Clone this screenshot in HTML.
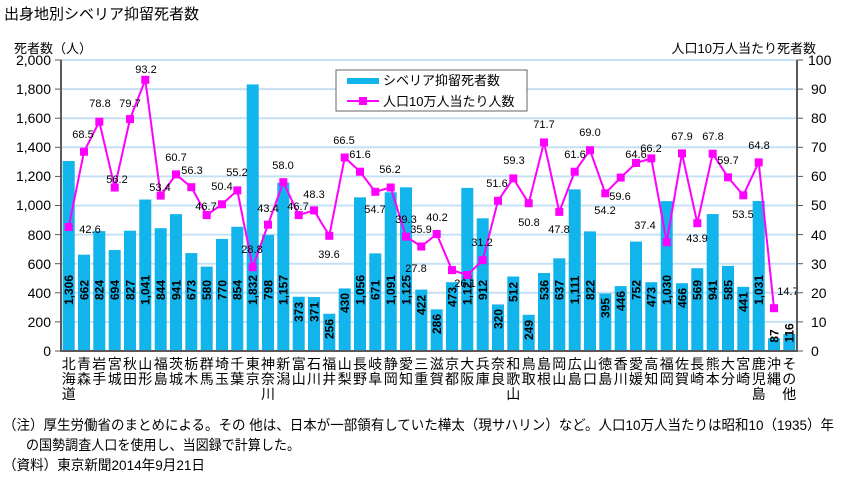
<!DOCTYPE html>
<html><head><meta charset="utf-8"><style>
html,body{margin:0;padding:0;background:#fff;}
svg{display:block;font-family:"Liberation Sans","Noto Sans CJK JP",sans-serif;}
.bl{font-size:12px;font-weight:bold;fill:#000;}
.rl{font-size:11px;fill:#000;}
.ax{font-size:14px;fill:#000;}
.cat{font-size:14px;fill:#000;text-anchor:middle;}
</style></head><body>
<svg width="851" height="484" viewBox="0 0 851 484" xmlns="http://www.w3.org/2000/svg">
<rect width="851" height="484" fill="#fff"/>
<text x="4" y="19" font-size="15">出身地別シベリア抑留死者数</text>
<text x="14" y="53" font-size="13">死者数（人）</text>
<text x="816" y="53" font-size="13" text-anchor="end">人口10万人当たり死者数</text>
<g stroke="#c6e0f5" stroke-width="2">
<line x1="61" x2="797" y1="60" y2="60"/><line x1="61" x2="797" y1="89.1" y2="89.1"/><line x1="61" x2="797" y1="118.2" y2="118.2"/><line x1="61" x2="797" y1="147.3" y2="147.3"/><line x1="61" x2="797" y1="176.4" y2="176.4"/><line x1="61" x2="797" y1="205.5" y2="205.5"/><line x1="61" x2="797" y1="234.6" y2="234.6"/><line x1="61" x2="797" y1="263.7" y2="263.7"/><line x1="61" x2="797" y1="292.8" y2="292.8"/><line x1="61" x2="797" y1="321.9" y2="321.9"/>
</g>
<g transform="translate(0,351) scale(1,-0.1455)" fill="#12b4ec">
<rect x="62.7" y="0" width="12" height="1306"/><rect x="78" y="0" width="12" height="662"/><rect x="93.3" y="0" width="12" height="824"/><rect x="108.7" y="0" width="12" height="694"/><rect x="124" y="0" width="12" height="827"/><rect x="139.3" y="0" width="12" height="1041"/><rect x="154.7" y="0" width="12" height="844"/><rect x="170" y="0" width="12" height="941"/><rect x="185.3" y="0" width="12" height="673"/><rect x="200.7" y="0" width="12" height="580"/><rect x="216" y="0" width="12" height="770"/><rect x="231.3" y="0" width="12" height="854"/><rect x="246.7" y="0" width="12" height="1832"/><rect x="262" y="0" width="12" height="798"/><rect x="277.3" y="0" width="12" height="1157"/><rect x="292.7" y="0" width="12" height="373"/><rect x="308" y="0" width="12" height="371"/><rect x="323.3" y="0" width="12" height="256"/><rect x="338.7" y="0" width="12" height="430"/><rect x="354" y="0" width="12" height="1056"/><rect x="369.3" y="0" width="12" height="671"/><rect x="384.7" y="0" width="12" height="1091"/><rect x="400" y="0" width="12" height="1125"/><rect x="415.3" y="0" width="12" height="422"/><rect x="430.7" y="0" width="12" height="286"/><rect x="446" y="0" width="12" height="473"/><rect x="461.3" y="0" width="12" height="1121"/><rect x="476.7" y="0" width="12" height="912"/><rect x="492" y="0" width="12" height="320"/><rect x="507.3" y="0" width="12" height="512"/><rect x="522.7" y="0" width="12" height="249"/><rect x="538" y="0" width="12" height="536"/><rect x="553.3" y="0" width="12" height="637"/><rect x="568.7" y="0" width="12" height="1111"/><rect x="584" y="0" width="12" height="822"/><rect x="599.3" y="0" width="12" height="395"/><rect x="614.7" y="0" width="12" height="446"/><rect x="630" y="0" width="12" height="752"/><rect x="645.3" y="0" width="12" height="473"/><rect x="660.7" y="0" width="12" height="1030"/><rect x="676" y="0" width="12" height="466"/><rect x="691.3" y="0" width="12" height="569"/><rect x="706.7" y="0" width="12" height="941"/><rect x="722" y="0" width="12" height="585"/><rect x="737.3" y="0" width="12" height="441"/><rect x="752.7" y="0" width="12" height="1031"/><rect x="768" y="0" width="12" height="87"/><rect x="783.3" y="0" width="12" height="116"/>
</g>
<g class="bl" text-anchor="middle">
<text transform="translate(73,290) rotate(-90)">1,306</text>
<text transform="translate(88.3,290) rotate(-90)">662</text>
<text transform="translate(103.6,290) rotate(-90)">824</text>
<text transform="translate(119,290) rotate(-90)">694</text>
<text transform="translate(134.3,290) rotate(-90)">827</text>
<text transform="translate(149.6,290) rotate(-90)">1,041</text>
<text transform="translate(165,290) rotate(-90)">844</text>
<text transform="translate(180.3,290) rotate(-90)">941</text>
<text transform="translate(195.6,290) rotate(-90)">673</text>
<text transform="translate(211,290) rotate(-90)">580</text>
<text transform="translate(226.3,290) rotate(-90)">770</text>
<text transform="translate(241.6,290) rotate(-90)">854</text>
<text transform="translate(257,290) rotate(-90)">1,832</text>
<text transform="translate(272.3,290) rotate(-90)">798</text>
<text transform="translate(287.6,290) rotate(-90)">1,157</text>
<text transform="translate(303,312) rotate(-90)">373</text>
<text transform="translate(318.3,312) rotate(-90)">371</text>
<text transform="translate(333.6,329) rotate(-90)">256</text>
<text transform="translate(349,303) rotate(-90)">430</text>
<text transform="translate(364.3,290) rotate(-90)">1,056</text>
<text transform="translate(379.6,290) rotate(-90)">671</text>
<text transform="translate(395,290) rotate(-90)">1,091</text>
<text transform="translate(410.3,290) rotate(-90)">1,125</text>
<text transform="translate(425.6,305) rotate(-90)">422</text>
<text transform="translate(441,324) rotate(-90)">286</text>
<text transform="translate(456.3,297) rotate(-90)">473</text>
<text transform="translate(471.6,290) rotate(-90)">1,121</text>
<text transform="translate(487,290) rotate(-90)">912</text>
<text transform="translate(502.3,319) rotate(-90)">320</text>
<text transform="translate(517.6,292) rotate(-90)">512</text>
<text transform="translate(533,330) rotate(-90)">249</text>
<text transform="translate(548.3,290) rotate(-90)">536</text>
<text transform="translate(563.6,290) rotate(-90)">637</text>
<text transform="translate(579,290) rotate(-90)">1,111</text>
<text transform="translate(594.3,290) rotate(-90)">822</text>
<text transform="translate(609.6,308) rotate(-90)">395</text>
<text transform="translate(625,301) rotate(-90)">446</text>
<text transform="translate(640.3,290) rotate(-90)">752</text>
<text transform="translate(655.6,297) rotate(-90)">473</text>
<text transform="translate(671,290) rotate(-90)">1,030</text>
<text transform="translate(686.3,298) rotate(-90)">466</text>
<text transform="translate(701.6,290) rotate(-90)">569</text>
<text transform="translate(717,290) rotate(-90)">941</text>
<text transform="translate(732.3,290) rotate(-90)">585</text>
<text transform="translate(747.6,302) rotate(-90)">441</text>
<text transform="translate(763,290) rotate(-90)">1,031</text>
<text transform="translate(778.3,336) rotate(-90)">87</text>
<text transform="translate(793.6,333) rotate(-90)">116</text>
</g>
<polyline fill="none" stroke="#ff00ff" stroke-width="2" points="68.7,227 84,151.7 99.3,121.7 114.7,187.5 130,119.1 145.3,79.8 160.7,195.6 176,174.4 191.3,187.2 206.7,215.1 222,204.3 237.3,190.4 252.7,267.2 268,224.7 283.3,182.2 298.7,215.1 314,210.4 329.3,235.8 344.7,157.5 360,171.7 375.3,191.8 390.7,187.5 406,236.6 421.3,246.5 436.7,234 452,270.1 467.3,275 482.7,260.2 498,200.8 513.3,178.4 528.7,203.2 544,142.4 559.3,211.9 574.7,171.7 590,150.2 605.3,193.3 620.7,177.6 636,163 651.3,158.4 666.7,242.2 682,153.4 697.3,223.2 712.7,153.7 728,177.3 743.3,195.3 758.7,162.4 774,308.2"/>
<g fill="#ff00ff">
<rect x="64.7" y="223" width="8" height="8"/><rect x="80" y="147.7" width="8" height="8"/><rect x="95.3" y="117.7" width="8" height="8"/><rect x="110.7" y="183.5" width="8" height="8"/><rect x="126" y="115.1" width="8" height="8"/><rect x="141.3" y="75.8" width="8" height="8"/><rect x="156.7" y="191.6" width="8" height="8"/><rect x="172" y="170.4" width="8" height="8"/><rect x="187.3" y="183.2" width="8" height="8"/><rect x="202.7" y="211.1" width="8" height="8"/><rect x="218" y="200.3" width="8" height="8"/><rect x="233.3" y="186.4" width="8" height="8"/><rect x="248.7" y="263.2" width="8" height="8"/><rect x="264" y="220.7" width="8" height="8"/><rect x="279.3" y="178.2" width="8" height="8"/><rect x="294.7" y="211.1" width="8" height="8"/><rect x="310" y="206.4" width="8" height="8"/><rect x="325.3" y="231.8" width="8" height="8"/><rect x="340.7" y="153.5" width="8" height="8"/><rect x="356" y="167.7" width="8" height="8"/><rect x="371.3" y="187.8" width="8" height="8"/><rect x="386.7" y="183.5" width="8" height="8"/><rect x="402" y="232.6" width="8" height="8"/><rect x="417.3" y="242.5" width="8" height="8"/><rect x="432.7" y="230" width="8" height="8"/><rect x="448" y="266.1" width="8" height="8"/><rect x="463.3" y="271" width="8" height="8"/><rect x="478.7" y="256.2" width="8" height="8"/><rect x="494" y="196.8" width="8" height="8"/><rect x="509.3" y="174.4" width="8" height="8"/><rect x="524.7" y="199.2" width="8" height="8"/><rect x="540" y="138.4" width="8" height="8"/><rect x="555.3" y="207.9" width="8" height="8"/><rect x="570.7" y="167.7" width="8" height="8"/><rect x="586" y="146.2" width="8" height="8"/><rect x="601.3" y="189.3" width="8" height="8"/><rect x="616.7" y="173.6" width="8" height="8"/><rect x="632" y="159" width="8" height="8"/><rect x="647.3" y="154.4" width="8" height="8"/><rect x="662.7" y="238.2" width="8" height="8"/><rect x="678" y="149.4" width="8" height="8"/><rect x="693.3" y="219.2" width="8" height="8"/><rect x="708.7" y="149.7" width="8" height="8"/><rect x="724" y="173.3" width="8" height="8"/><rect x="739.3" y="191.3" width="8" height="8"/><rect x="754.7" y="158.4" width="8" height="8"/><rect x="770" y="304.2" width="8" height="8"/>
</g>
<g class="rl" text-anchor="middle">
<text x="90" y="233">42.6</text><text x="83" y="138">68.5</text><text x="100" y="107">78.8</text><text x="117" y="183">56.2</text><text x="130" y="107">79.7</text><text x="146" y="73">93.2</text><text x="160" y="191">53.4</text><text x="176" y="161">60.7</text><text x="192" y="174">56.3</text><text x="206" y="210">46.7</text><text x="222" y="190">50.4</text><text x="237" y="176">55.2</text><text x="252" y="253">28.8</text><text x="268" y="212">43.4</text><text x="283" y="169">58.0</text><text x="298" y="210">46.7</text><text x="314" y="198">48.3</text><text x="329" y="258">39.6</text><text x="344" y="144">66.5</text><text x="360" y="158">61.6</text><text x="375" y="213">54.7</text><text x="390" y="173">56.2</text><text x="406" y="223">39.3</text><text x="421" y="233">35.9</text><text x="437" y="221">40.2</text><text x="416" y="272">27.8</text><text x="465" y="287">26.1</text><text x="482" y="246">31.2</text><text x="497" y="187">51.6</text><text x="514" y="164">59.3</text><text x="529" y="226">50.8</text><text x="544" y="128">71.7</text><text x="559" y="233">47.8</text><text x="575" y="158">61.6</text><text x="590" y="136">69.0</text><text x="605" y="214">54.2</text><text x="620" y="200">59.6</text><text x="636" y="158">64.6</text><text x="651" y="152">66.2</text><text x="645" y="229">37.4</text><text x="682" y="140">67.9</text><text x="697" y="242">43.9</text><text x="713" y="140">67.8</text><text x="728" y="164">59.7</text><text x="743" y="218">53.5</text><text x="759" y="149">64.8</text><text x="788" y="295">14.7</text>
</g>
<g stroke="#595959" stroke-width="2" fill="none">
<line x1="61" y1="60" x2="61" y2="352"/>
<line x1="797" y1="60" x2="797" y2="352"/>
<line x1="60" y1="351" x2="798" y2="351"/>
</g>
<g stroke="#595959" stroke-width="1">
<line x1="55" x2="61" y1="60" y2="60"/><line x1="55" x2="61" y1="89.1" y2="89.1"/><line x1="55" x2="61" y1="118.2" y2="118.2"/><line x1="55" x2="61" y1="147.3" y2="147.3"/><line x1="55" x2="61" y1="176.4" y2="176.4"/><line x1="55" x2="61" y1="205.5" y2="205.5"/><line x1="55" x2="61" y1="234.6" y2="234.6"/><line x1="55" x2="61" y1="263.7" y2="263.7"/><line x1="55" x2="61" y1="292.8" y2="292.8"/><line x1="55" x2="61" y1="321.9" y2="321.9"/><line x1="55" x2="61" y1="351" y2="351"/>
<line x1="797" x2="803" y1="60" y2="60"/><line x1="797" x2="803" y1="89.1" y2="89.1"/><line x1="797" x2="803" y1="118.2" y2="118.2"/><line x1="797" x2="803" y1="147.3" y2="147.3"/><line x1="797" x2="803" y1="176.4" y2="176.4"/><line x1="797" x2="803" y1="205.5" y2="205.5"/><line x1="797" x2="803" y1="234.6" y2="234.6"/><line x1="797" x2="803" y1="263.7" y2="263.7"/><line x1="797" x2="803" y1="292.8" y2="292.8"/><line x1="797" x2="803" y1="321.9" y2="321.9"/><line x1="797" x2="803" y1="351" y2="351"/>
</g>
<g class="ax" text-anchor="end">
<text x="51" y="65">2,000</text><text x="51" y="94">1,800</text><text x="51" y="123">1,600</text><text x="51" y="152">1,400</text><text x="51" y="181">1,200</text><text x="51" y="210">1,000</text><text x="51" y="240">800</text><text x="51" y="269">600</text><text x="51" y="298">400</text><text x="51" y="327">200</text><text x="51" y="356">0</text>
</g>
<g class="ax">
<text x="808" y="65">100</text><text x="811" y="94">90</text><text x="811" y="123">80</text><text x="811" y="152">70</text><text x="811" y="181">60</text><text x="811" y="210">50</text><text x="811" y="240">40</text><text x="811" y="269">30</text><text x="811" y="298">20</text><text x="811" y="327">10</text><text x="811" y="356">0</text>
</g>
<rect x="336" y="70" width="191" height="41" fill="#fff" stroke="#666" stroke-width="1"/>
<rect x="347" y="78" width="32" height="6" fill="#12b4ec"/>
<text x="383" y="85" font-size="13">シベリア抑留死者数</text>
<line x1="347" x2="379" y1="101" y2="101" stroke="#ff00ff" stroke-width="2"/>
<rect x="359" y="97" width="8" height="8" fill="#ff00ff"/>
<text x="383" y="106" font-size="13">人口10万人当たり人数</text>
<g class="cat">
<text x="68.7" y="369">北</text><text x="68.7" y="384">海</text><text x="68.7" y="399">道</text>
<text x="84" y="369">青</text><text x="84" y="384">森</text>
<text x="99.3" y="369">岩</text><text x="99.3" y="384">手</text>
<text x="114.7" y="369">宮</text><text x="114.7" y="384">城</text>
<text x="130" y="369">秋</text><text x="130" y="384">田</text>
<text x="145.3" y="369">山</text><text x="145.3" y="384">形</text>
<text x="160.7" y="369">福</text><text x="160.7" y="384">島</text>
<text x="176" y="369">茨</text><text x="176" y="384">城</text>
<text x="191.3" y="369">栃</text><text x="191.3" y="384">木</text>
<text x="206.7" y="369">群</text><text x="206.7" y="384">馬</text>
<text x="222" y="369">埼</text><text x="222" y="384">玉</text>
<text x="237.3" y="369">千</text><text x="237.3" y="384">葉</text>
<text x="252.7" y="369">東</text><text x="252.7" y="384">京</text>
<text x="268" y="369">神</text><text x="268" y="384">奈</text><text x="268" y="399">川</text>
<text x="283.3" y="369">新</text><text x="283.3" y="384">潟</text>
<text x="298.7" y="369">富</text><text x="298.7" y="384">山</text>
<text x="314" y="369">石</text><text x="314" y="384">川</text>
<text x="329.3" y="369">福</text><text x="329.3" y="384">井</text>
<text x="344.7" y="369">山</text><text x="344.7" y="384">梨</text>
<text x="360" y="369">長</text><text x="360" y="384">野</text>
<text x="375.3" y="369">岐</text><text x="375.3" y="384">阜</text>
<text x="390.7" y="369">静</text><text x="390.7" y="384">岡</text>
<text x="406" y="369">愛</text><text x="406" y="384">知</text>
<text x="421.3" y="369">三</text><text x="421.3" y="384">重</text>
<text x="436.7" y="369">滋</text><text x="436.7" y="384">賀</text>
<text x="452" y="369">京</text><text x="452" y="384">都</text>
<text x="467.3" y="369">大</text><text x="467.3" y="384">阪</text>
<text x="482.7" y="369">兵</text><text x="482.7" y="384">庫</text>
<text x="498" y="369">奈</text><text x="498" y="384">良</text>
<text x="513.3" y="369">和</text><text x="513.3" y="384">歌</text><text x="513.3" y="399">山</text>
<text x="528.7" y="369">鳥</text><text x="528.7" y="384">取</text>
<text x="544" y="369">島</text><text x="544" y="384">根</text>
<text x="559.3" y="369">岡</text><text x="559.3" y="384">山</text>
<text x="574.7" y="369">広</text><text x="574.7" y="384">島</text>
<text x="590" y="369">山</text><text x="590" y="384">口</text>
<text x="605.3" y="369">徳</text><text x="605.3" y="384">島</text>
<text x="620.7" y="369">香</text><text x="620.7" y="384">川</text>
<text x="636" y="369">愛</text><text x="636" y="384">媛</text>
<text x="651.3" y="369">高</text><text x="651.3" y="384">知</text>
<text x="666.7" y="369">福</text><text x="666.7" y="384">岡</text>
<text x="682" y="369">佐</text><text x="682" y="384">賀</text>
<text x="697.3" y="369">長</text><text x="697.3" y="384">崎</text>
<text x="712.7" y="369">熊</text><text x="712.7" y="384">本</text>
<text x="728" y="369">大</text><text x="728" y="384">分</text>
<text x="743.3" y="369">宮</text><text x="743.3" y="384">崎</text>
<text x="758.7" y="369">鹿</text><text x="758.7" y="384">児</text><text x="758.7" y="399">島</text>
<text x="774" y="369">沖</text><text x="774" y="384">縄</text>
<text x="789.3" y="369">そ</text><text x="789.3" y="384">の</text><text x="789.3" y="399">他</text>
</g>
<g font-size="14">
<text x="3" y="430" textLength="831" lengthAdjust="spacingAndGlyphs">（注）厚生労働省のまとめによる。その 他は、日本が一部領有していた樺太（現サハリン）など。人口10万人当たりは昭和10（1935）年</text>
<text x="26" y="450" textLength="274" lengthAdjust="spacingAndGlyphs">の国勢調査人口を使用し、当図録で計算した。</text>
<text x="3" y="470" textLength="202" lengthAdjust="spacingAndGlyphs">（資料）東京新聞2014年9月21日</text>
</g>
</svg>
</body></html>
